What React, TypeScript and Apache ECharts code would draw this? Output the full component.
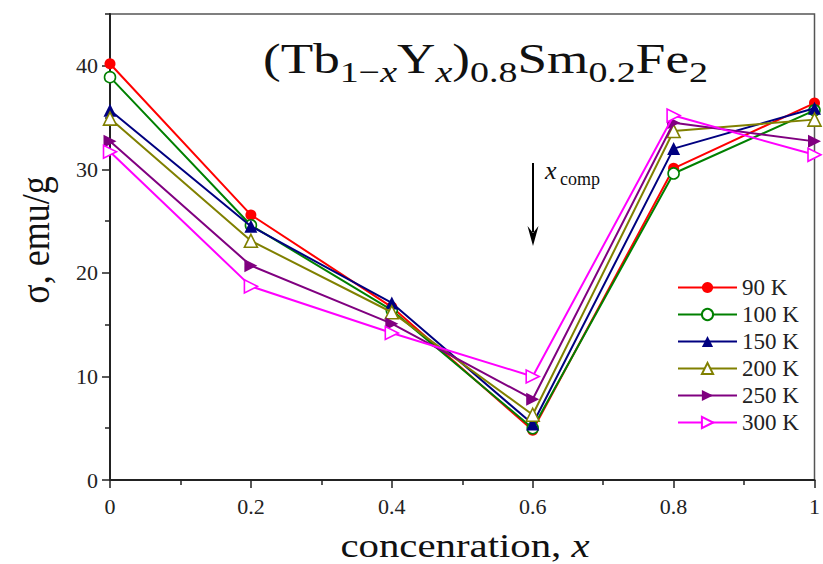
import React, { useEffect, useRef } from "react";
import * as echarts from "echarts";

const concentrations = [0, 0.2, 0.4, 0.6, 0.8, 1];
const seriesNames = ["90 K", "100 K", "150 K", "200 K", "250 K", "300 K"];
const s90K = [40.2, 25.6, 16.7, 4.8, 30.1, 36.4];
const s100K = [38.9, 24.6, 16.4, 5.0, 29.6, 35.7];
const s150K = [35.7, 24.5, 17.1, 5.4, 32.0, 35.9];
const s200K = [34.9, 23.1, 16.2, 6.3, 33.7, 34.8];
const s250K = [32.7, 20.7, 15.1, 7.8, 34.5, 32.7];
const s300K = [31.7, 18.7, 14.2, 10.0, 35.2, 31.4];
const allValues = [s90K, s100K, s150K, s200K, s250K, s300K];
const yMajorTicks = [0, 10, 20, 30, 40];
const yMinorTicks = [5, 15, 25, 35, 45];

const colors = ["#ff0000", "#008000", "#000080", "#808000", "#800080", "#ff00ff"];
const symbols = ["circle", "circle", "triangle", "triangle", "triangle", "triangle"];
const hollow = [false, true, false, true, false, true];
const rotations = [0, 0, 0, 0, -90, -90];

const SERIF = "Liberation Serif, Times New Roman, serif";

// title runs: text, subscript?, italic?
const titleRuns: [string, boolean, boolean][] = [
  ["(Tb", false, false],
  ["1−", true, false],
  ["x", true, true],
  ["Y", false, false],
  ["x", true, true],
  [")", false, false],
  ["0.8", true, false],
  ["Sm", false, false],
  ["0.2", true, false],
  ["Fe", false, false],
  ["2", true, false],
];

export default function App() {
  const ref = useRef<HTMLDivElement>(null);
  useEffect(() => {
    if (!ref.current) return;
    const chart = echarts.init(ref.current, undefined, { renderer: "svg" });

    const canvas = document.createElement("canvas");
    const ctx = canvas.getContext("2d");
    const measure = (t: string, size: number, italic: boolean) => {
      if (!ctx) return t.length * size * 0.5;
      ctx.font = `${italic ? "italic " : ""}${size}px ${SERIF}`;
      return ctx.measureText(t).width;
    };
    const MAIN = 42;
    const SUB = 30;
    const mainBase = 73;
    const subBase = 82;
    let cx = 0;
    const titleChildren = titleRuns.map(([t, sub, it]) => {
      const size = sub ? SUB : MAIN;
      const base = sub ? subBase : mainBase;
      const el = {
        type: "text",
        x: cx,
        y: base - 0.3375 * size,
        style: {
          text: t,
          fontFamily: SERIF,
          fontSize: size,
          fontStyle: it ? "italic" : "normal",
          fill: "#111111",
          align: "left",
          verticalAlign: "middle",
        },
      };
      cx += measure(t, size, it);
      return el;
    });
    const titleScale = 445 / cx;

    const series = seriesNames.map((name, i) => ({
      name,
      type: "line",
      data: concentrations.map((x, j) => [x, allValues[i][j]]),
      symbol: symbols[i],
      symbolSize: symbols[i] === "circle" ? 11 : 13,
      symbolRotate: rotations[i],
      showAllSymbol: true,
      lineStyle: { color: colors[i], width: 2 },
      itemStyle: hollow[i]
        ? { color: "#ffffff", borderColor: colors[i], borderWidth: 1.6 }
        : { color: colors[i], borderColor: colors[i], borderWidth: 0 },
      emphasis: { disabled: true },
      z: 2 + i,
    }));

    const axisColor = "#222222";
    chart.setOption({
      animation: false,
      textStyle: { fontFamily: SERIF },
      grid: {
        left: 110,
        right: 3,
        top: 14,
        bottom: 84,
        show: true,
        borderColor: "#555555",
        borderWidth: 1.5,
        backgroundColor: "transparent",
      },
      legend: {
        orient: "vertical",
        left: 672,
        top: 271,
        itemWidth: 59,
        itemHeight: 14,
        itemGap: 4,
        textStyle: { fontFamily: SERIF, fontSize: 23, color: "#222222", lineHeight: 22 },
        data: seriesNames,
      },
      xAxis: {
        type: "value",
        min: 0,
        max: 1,
        interval: 0.2,
        axisLine: { show: true, lineStyle: { color: axisColor, width: 2 } },
        axisTick: { show: true, inside: false, length: 8, lineStyle: { color: axisColor, width: 1.5 } },
        minorTick: { show: true, splitNumber: 2, length: 5, lineStyle: { color: axisColor, width: 1.5 } },
        splitLine: { show: false },
        axisLabel: {
          margin: 15,
          fontFamily: SERIF,
          fontSize: 22,
          color: axisColor,
          formatter: (v: number) => String(Math.round(v * 10) / 10),
        },
      },
      yAxis: [
        {
          type: "value",
          min: 0,
          max: 45,
          interval: 5,
          position: "left",
          axisLine: { show: true, lineStyle: { color: axisColor, width: 2 } },
          axisTick: {
            show: true,
            inside: false,
            length: 8,
            customValues: yMajorTicks,
            lineStyle: { color: axisColor, width: 1.5 },
          },
          splitLine: { show: false },
          axisLabel: {
            margin: 12,
            fontFamily: SERIF,
            fontSize: 22,
            color: axisColor,
            customValues: yMajorTicks,
          },
        },
        {
          type: "value",
          min: 0,
          max: 45,
          interval: 5,
          position: "left",
          offset: 0,
          axisLine: { show: false },
          axisTick: {
            show: true,
            inside: false,
            length: 5,
            customValues: yMinorTicks,
            lineStyle: { color: axisColor, width: 1.5 },
          },
          splitLine: { show: false },
          axisLabel: { show: false },
        },
      ],
      graphic: [
        {
          type: "group",
          x: 263,
          y: 0,
          scaleX: titleScale,
          z: 10,
          children: titleChildren,
        },
        {
          type: "line",
          shape: { x1: 533, y1: 163, x2: 533, y2: 232 },
          style: { stroke: "#000000", lineWidth: 2 },
          z: 10,
        },
        {
          type: "polygon",
          shape: { points: [[527.5, 226], [533, 233], [538.5, 226], [533, 246]] },
          style: { fill: "#000000" },
          z: 10,
        },
        {
          type: "text",
          x: 545,
          y: 170,
          z: 10,
          style: {
            text: "x",
            fontFamily: SERIF,
            fontSize: 26,
            fontStyle: "italic",
            fill: "#111111",
            verticalAlign: "middle",
            align: "left",
          },
        },
        {
          type: "text",
          x: 560,
          y: 179,
          z: 10,
          style: {
            text: "comp",
            fontFamily: SERIF,
            fontSize: 18,
            fill: "#111111",
            verticalAlign: "middle",
            align: "left",
          },
        },
        {
          type: "text",
          x: 465,
          y: 546,
          scaleX: 1.2,
          z: 10,
          style: {
            text: "concenration, {i|x}",
            fontFamily: SERIF,
            fontSize: 34,
            fill: "#111111",
            align: "center",
            verticalAlign: "middle",
            rich: { i: { fontFamily: SERIF, fontSize: 34, fontStyle: "italic", fill: "#111111" } },
          },
        },
        {
          type: "text",
          x: 35,
          y: 240,
          rotation: Math.PI / 2,
          scaleY: 1.1,
          z: 10,
          style: {
            text: "σ, emu/g",
            fontFamily: SERIF,
            fontSize: 36,
            fill: "#111111",
            align: "center",
            verticalAlign: "middle",
          },
        },
      ],
      series,
    });
    return () => chart.dispose();
  }, []);
  return (
    <div
      ref={ref}
      style={{ position: "fixed", left: 0, top: 0, width: 823, height: 564, background: "#ffffff" }}
    />
  );
}
